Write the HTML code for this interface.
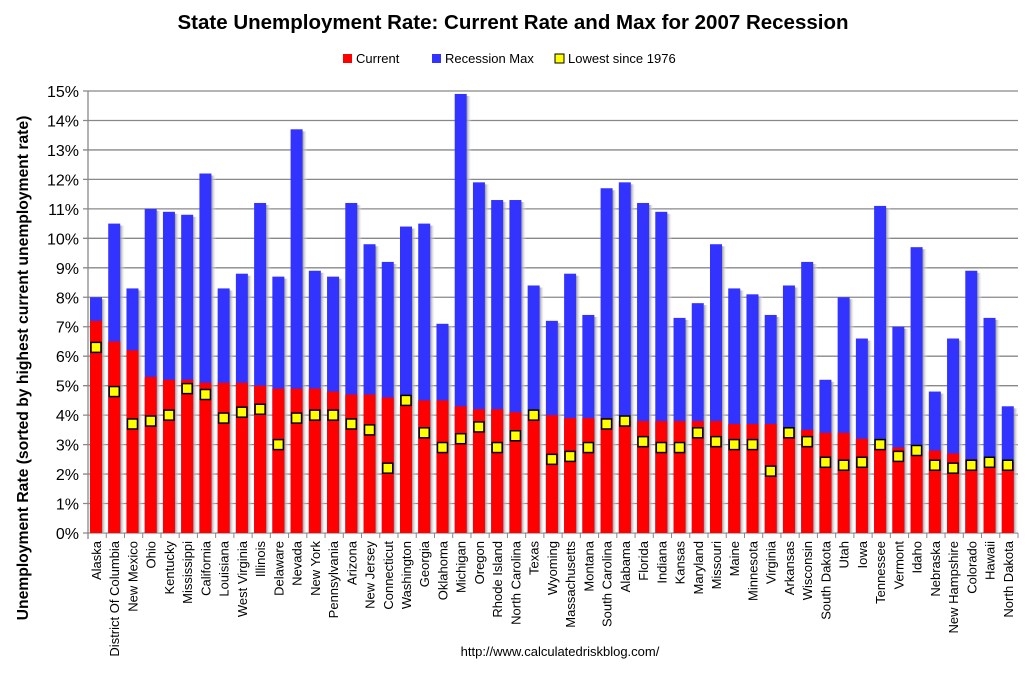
<!DOCTYPE html>
<html><head><meta charset="utf-8"><style>
body{margin:0;background:#fff;font-family:"Liberation Sans",sans-serif}
svg text{font-family:"Liberation Sans",sans-serif}
</style></head><body>
<svg id="c" width="1026" height="674" xmlns="http://www.w3.org/2000/svg">
<defs><linearGradient id="sh" x1="0" x2="1"><stop offset="0" stop-color="#999"/><stop offset="1" stop-color="#fff" stop-opacity="0"/></linearGradient></defs>
<text x="513" y="29" text-anchor="middle" font-size="20.5" font-weight="bold">State Unemployment Rate: Current Rate and Max for 2007 Recession</text>
<g>
<rect x="343" y="54" width="9" height="9" fill="#f00"/>
<text x="356" y="63" font-size="13">Current</text>
<rect x="432" y="54" width="9" height="9" fill="#3333ff"/>
<text x="445" y="63" font-size="13">Recession Max</text>
<rect x="555" y="54" width="9" height="9" fill="#ff0" stroke="#000"/>
<text x="568" y="63" font-size="13">Lowest since 1976</text>
</g>
<text transform="translate(28,368) rotate(-90)" text-anchor="middle" font-size="15.7" font-weight="bold">Unemployment Rate (sorted by highest current unemployment rate)</text>
<text x="560" y="656" text-anchor="middle" font-size="13">http://www.calculatedriskblog.com/</text>
<g id="g"></g>
</svg>
<script>
const states=["Alaska","District Of Columbia","New Mexico","Ohio","Kentucky","Mississippi","California","Louisiana","West Virginia","Illinois","Delaware","Nevada","New York","Pennsylvania","Arizona","New Jersey","Connecticut","Washington","Georgia","Oklahoma","Michigan","Oregon","Rhode Island","North Carolina","Texas","Wyoming","Massachusetts","Montana","South Carolina","Alabama","Florida","Indiana","Kansas","Maryland","Missouri","Maine","Minnesota","Virginia","Arkansas","Wisconsin","South Dakota","Utah","Iowa","Tennessee","Vermont","Idaho","Nebraska","New Hampshire","Colorado","Hawaii","North Dakota"];
const current=[7.2,6.5,6.2,5.3,5.2,5.2,5.1,5.1,5.1,5.0,4.9,4.9,4.9,4.8,4.7,4.7,4.6,4.6,4.5,4.5,4.3,4.2,4.2,4.1,4.0,4.0,3.9,3.9,3.9,3.8,3.8,3.8,3.8,3.8,3.8,3.7,3.7,3.7,3.5,3.5,3.4,3.4,3.2,3.0,2.9,2.8,2.8,2.7,2.5,2.5,2.4];
const recessionMax=[8.0,10.5,8.3,11.0,10.9,10.8,12.2,8.3,8.8,11.2,8.7,13.7,8.9,8.7,11.2,9.8,9.2,10.4,10.5,7.1,14.9,11.9,11.3,11.3,8.4,7.2,8.8,7.4,11.7,11.9,11.2,10.9,7.3,7.8,9.8,8.3,8.1,7.4,8.4,9.2,5.2,8.0,6.6,11.1,7.0,9.7,4.8,6.6,8.9,7.3,4.3];
const lowest=[6.3,4.8,3.7,3.8,4.0,4.9,4.7,3.9,4.1,4.2,3.0,3.9,4.0,4.0,3.7,3.5,2.2,4.5,3.4,2.9,3.2,3.6,2.9,3.3,4.0,2.5,2.6,2.9,3.7,3.8,3.1,2.9,2.9,3.4,3.1,3.0,3.0,2.1,3.4,3.1,2.4,2.3,2.4,3.0,2.6,2.8,2.3,2.2,2.3,2.4,2.3];
const yTicks=[0,1,2,3,4,5,6,7,8,9,10,11,12,13,14,15];
const X0=88,X1=1018,Y0=533,Y15=91;
const slot=(X1-X0)/states.length;
const y=v=>Y0-(v/15)*(Y0-Y15);
const x=i=>X0+i*slot;
const g=document.getElementById('g');
const NS="http://www.w3.org/2000/svg";
function mk(t,a){const e=document.createElementNS(NS,t);for(const k in a)e.setAttribute(k,a[k]);g.appendChild(e);return e;}
yTicks.forEach(t=>{
 const l=mk('line',{x1:X0-5,x2:X1,y1:y(t),y2:y(t),stroke:'#888','stroke-width':1.3});
 
 
 const tx=mk('text',{x:X0-9,y:y(t)+6,'text-anchor':'end','font-size':16});
 tx.textContent=t+'%';
 
 
});
mk('line',{x1:X0,x2:X0,y1:Y15,y2:Y0+6,stroke:'#888','stroke-width':1.3});
states.forEach((s,i)=>{
 const bx=x(i)+2,bw=12;
 const sh=mk('rect',{x:bx+bw,y:y(recessionMax[i])+2,width:5,height:Y0-y(recessionMax[i])-2,fill:'url(#sh)'});
 
 
 const m=mk('rect',{x:bx,y:y(recessionMax[i]),width:bw,height:Y0-y(recessionMax[i]),fill:'#3333ff'});
 
 
 const c=mk('rect',{x:bx,y:y(current[i]),width:bw,height:Y0-y(current[i]),fill:'#ff0000'});
 
 
 const p=mk('rect',{x:bx+1,y:y(lowest[i])-5,width:10,height:10,fill:'#ffff00',stroke:'#000','stroke-width':1.5});
 
 
 const tk=mk('line',{x1:x(i),x2:x(i),y1:Y0,y2:Y0+5,stroke:'#888'});
 
 
 const t=mk('text',{transform:`translate(${bx+bw/2+5},541) rotate(-90)`,'text-anchor':'end','font-size':13});
 t.textContent=s;
 
 
});
mk('line',{x1:X1,x2:X1,y1:Y0,y2:Y0+5,stroke:'#888'});
</script>
</body></html>
